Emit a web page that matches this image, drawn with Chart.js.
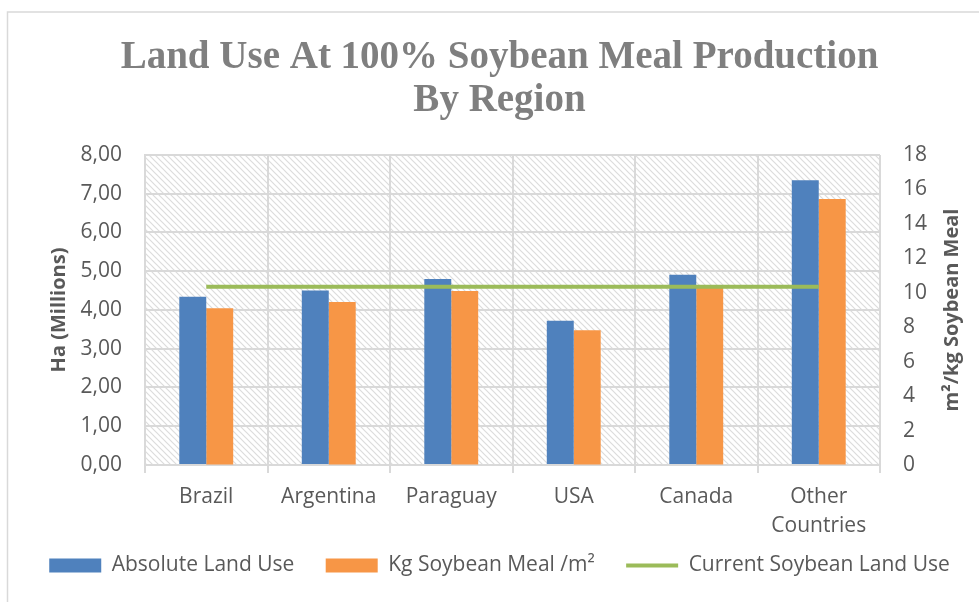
<!DOCTYPE html>
<html>
<head>
<meta charset="utf-8">
<script src="https://cdn.jsdelivr.net/npm/chart.js@4.4.1/dist/chart.umd.min.js"></script>
<style>
  html, body { margin: 0; padding: 0; background: #fff; }
  canvas { display: block; }
</style>
</head>
<body>
<canvas id="chart" width="979" height="602"></canvas>
<script>
// Data
const regions = ['Brazil', 'Argentina', 'Paraguay', 'USA', 'Canada', ['Other', 'Countries']];
const absoluteLandUse = [4.34, 4.50, 4.80, 3.72, 4.91, 7.35];      // Ha (Millions), left axis
const kgSoybeanMeal = [9.10, 9.47, 10.10, 7.83, 10.33, 15.44];     // m²/kg, right axis
const currentLandUse = [4.60, 4.60, 4.60, 4.60, 4.60, 4.60];       // Ha (Millions), left axis
const leftTickLabels = ['0,00', '1,00', '2,00', '3,00', '4,00', '5,00', '6,00', '7,00', '8,00'];

const textGray = '#595959';
const gridGray = '#d9d9d9';
const labelFont = { family: '"Open Sans"', size: 21 };

// hatched plot background
const tile = document.createElement('canvas');
tile.width = 6;
tile.height = 6;
const t = tile.getContext('2d');
t.strokeStyle = '#dcdcdc';
t.lineWidth = 1.2;
t.beginPath();
t.moveTo(-1, -1); t.lineTo(7, 7);
t.moveTo(-1, 5); t.lineTo(1, 7);
t.moveTo(5, -1); t.lineTo(7, 1);
t.stroke();

const backgroundPlugin = {
    id: 'backgroundPlugin',
    beforeDraw(chart) {
        const ctx = chart.ctx;
        const a = chart.chartArea;
        ctx.save();
        ctx.fillStyle = '#fff';
        ctx.fillRect(0, 0, chart.width, chart.height);
        ctx.fillStyle = ctx.createPattern(tile, 'repeat');
        ctx.fillRect(a.left, a.top, a.right - a.left, a.bottom - a.top);
        // chart frame (only top and left edges are visible)
        ctx.strokeStyle = gridGray;
        ctx.lineWidth = 1.5;
        ctx.beginPath();
        ctx.moveTo(7.5, chart.height);
        ctx.lineTo(7.5, 12);
        ctx.lineTo(chart.width, 12);
        ctx.stroke();
        ctx.restore();
    },
    afterDraw(chart) {
        // right axis title, reading bottom to top
        const ctx = chart.ctx;
        const a = chart.chartArea;
        const s = chart.scales.y1;
        ctx.save();
        ctx.translate(s.left + 72, (a.top + a.bottom) / 2);
        ctx.rotate(-Math.PI / 2);
        ctx.font = 'bold 20px "Open Sans"';
        ctx.fillStyle = textGray;
        ctx.textAlign = 'center';
        ctx.textBaseline = 'middle';
        ctx.fillText('m²/kg Soybean Meal', 0, 0);
        ctx.restore();
    }
};

const ctx = document.getElementById('chart').getContext('2d');
new Chart(ctx, {
    type: 'bar',
    data: {
        labels: regions,
        datasets: [{
            label: 'Absolute Land Use',
            data: absoluteLandUse,
            backgroundColor: '#4f81bd',
            yAxisID: 'y',
            order: 1
        }, {
            label: 'Kg Soybean Meal /m²',
            data: kgSoybeanMeal,
            backgroundColor: '#f79646',
            yAxisID: 'y1',
            order: 1
        }, {
            type: 'line',
            label: 'Current Soybean Land Use',
            data: currentLandUse,
            borderColor: '#9bbb59',
            backgroundColor: '#9bbb59',
            borderWidth: 4,
            pointRadius: 0,
            yAxisID: 'y',
            order: 0
        }]
    },
    options: {
        responsive: false,
        animation: false,
        devicePixelRatio: 1,
        categoryPercentage: 0.44,
        barPercentage: 1.0,
        layout: { padding: { left: 20, right: 0, top: 0, bottom: 16 } },
        plugins: {
            title: {
                display: true,
                text: ['Land Use At 100% Soybean Meal Production', 'By Region'],
                color: '#7f7f7f',
                font: { family: '"Liberation Serif"', size: 39, weight: 'bold', lineHeight: 1.115 },
                padding: { top: 36, bottom: 32 }
            },
            legend: {
                position: 'bottom',
                labels: {
                    color: textGray,
                    font: labelFont,
                    usePointStyle: true,
                    pointStyleWidth: 52,
                    boxHeight: 14,
                    padding: 15,
                    generateLabels(chart) {
                        const items = Chart.defaults.plugins.legend.labels.generateLabels(chart);
                        items.sort((p, q) => p.datasetIndex - q.datasetIndex);
                        items.forEach(item => {
                            if (item.datasetIndex === 2) {
                                item.pointStyle = 'line';
                                item.lineWidth = 4;
                                item.strokeStyle = '#9bbb59';
                            } else {
                                item.pointStyle = 'rect';
                                item.lineWidth = 0;
                                item.text = item.text + '   ';
                            }
                        });
                        return items;
                    }
                }
            },
            tooltip: { enabled: false }
        },
        scales: {
            x: {
                grid: { color: gridGray, lineWidth: 2, tickLength: 8, offset: true },
                border: { color: gridGray, width: 2 },
                ticks: { color: textGray, font: { ...labelFont, lineHeight: 1.35 }, padding: 10, maxRotation: 0 },
                afterFit(scale) { scale.height = 75; }
            },
            y: {
                position: 'left',
                min: 0,
                max: 8,
                grid: { color: gridGray, lineWidth: 2, drawTicks: false },
                border: { color: gridGray, width: 2 },
                ticks: {
                    stepSize: 1,
                    color: textGray,
                    font: labelFont,
                    padding: 23,
                    callback: (value, index) => leftTickLabels[index]
                },
                title: {
                    display: true,
                    text: 'Ha (Millions)',
                    color: textGray,
                    font: { family: '"Open Sans"', size: 20, weight: 'bold' },
                    padding: { top: 27, bottom: 0 }
                },
                afterFit(scale) { scale.width = 125; }
            },
            y1: {
                position: 'right',
                min: 0,
                max: 18,
                grid: { drawOnChartArea: false, drawTicks: false },
                border: { display: false },
                ticks: { stepSize: 2, color: textGray, font: labelFont, padding: 23 },
                afterFit(scale) { scale.width = 99; }
            }
        }
    },
    plugins: [backgroundPlugin]
});
</script>
</body>
</html>
